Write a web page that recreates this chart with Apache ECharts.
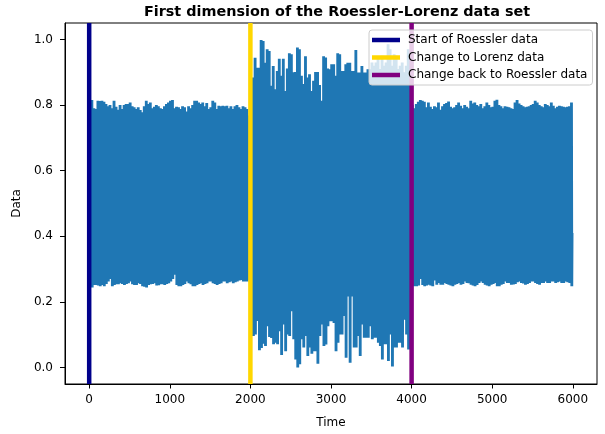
<!DOCTYPE html>
<html>
<head>
<meta charset="utf-8">
<script src="https://cdn.jsdelivr.net/npm/echarts@6/dist/echarts.min.js"></script>
<style>
  html, body { margin: 0; padding: 0; background: #fff; }
  #chart { width: 605px; height: 434px; }
</style>
</head>
<body>
<div id="chart"></div>
<script>
// chunk width in time units; each chunk holds the max and min
var chunk = 25;

// 0 - 2000: Roessler
var roessler1Hi = [0.79,0.815,0.79,0.788,0.813,0.812,0.813,0.81,0.803,0.796,0.80,0.79,0.813,0.795,0.786,0.80,0.788,0.80,0.803,0.803,
  0.808,0.796,0.793,0.788,0.793,0.785,0.778,0.796,0.813,0.803,0.808,0.79,0.795,0.80,0.796,0.79,0.788,0.796,0.803,0.808,
  0.813,0.815,0.79,0.795,0.793,0.788,0.796,0.793,0.78,0.796,0.79,0.80,0.813,0.813,0.808,0.803,0.808,0.796,0.806,0.788,
  0.793,0.813,0.808,0.788,0.798,0.796,0.798,0.796,0.798,0.79,0.796,0.788,0.796,0.80,0.793,0.788,0.796,0.793,0.788,0.768];
var roessler1Lo = [0.26,0.244,0.252,0.252,0.25,0.248,0.252,0.248,0.255,0.262,0.27,0.248,0.252,0.254,0.254,0.257,0.255,0.252,0.255,0.257,
  0.262,0.254,0.252,0.252,0.257,0.255,0.248,0.246,0.244,0.252,0.254,0.255,0.257,0.25,0.251,0.254,0.254,0.252,0.255,0.257,
  0.262,0.27,0.283,0.252,0.248,0.248,0.252,0.255,0.262,0.257,0.254,0.248,0.248,0.252,0.255,0.257,0.252,0.255,0.257,0.262,
  0.262,0.257,0.255,0.252,0.255,0.257,0.262,0.262,0.257,0.26,0.262,0.257,0.26,0.262,0.265,0.267,0.262,0.262,0.262,0.267];

// 2000 - 4000: Lorenz
var lorenzHi = [0.884,0.884,0.944,0.914,0.914,0.998,0.995,0.929,0.970,0.965,0.859,0.919,0.848,0.904,0.941,0.889,0.941,0.843,0.911,0.958,
  0.955,0.900,0.901,0.975,0.970,0.889,0.864,0.949,0.884,0.894,0.843,0.874,0.901,0.901,0.861,0.813,0.949,0.945,0.911,0.909,
  0.924,0.924,0.889,0.958,0.955,0.904,0.904,0.924,0.929,0.929,0.904,0.904,0.968,0.899,0.899,0.919,0.899,0.899,0.909,0.909,
  0.93,0.92,0.93,0.94,0.91,0.95,0.92,0.93,0.985,0.97,0.92,0.955,0.95,0.91,0.92,0.93,0.90,0.92,0.97,0.95];
var lorenzLo = [0.096,0.096,0.101,0.142,0.053,0.06,0.073,0.066,0.126,0.093,0.09,0.071,0.076,0.071,0.111,0.038,0.131,0.05,0.101,0.096,
  0.172,0.086,0.025,0.0,0.01,0.086,0.061,0.096,0.035,0.061,0.042,0.05,0.05,0.012,0.096,0.131,0.066,0.07,0.126,0.141,
  0.141,0.136,0.05,0.076,0.101,0.101,0.157,0.03,0.217,0.015,0.217,0.061,0.061,0.096,0.035,0.131,0.091,0.091,0.091,0.126,
  0.086,0.091,0.091,0.076,0.066,0.025,0.071,0.071,0.02,0.101,0.003,0.061,0.061,0.076,0.076,0.061,0.146,0.101,0.055,0.09];

// 4000 - 6000: Roessler again
var roessler2Hi = [0.80,0.79,0.803,0.81,0.815,0.813,0.81,0.793,0.808,0.795,0.788,0.796,0.793,0.808,0.786,0.796,0.803,0.806,0.811,0.795,
  0.79,0.793,0.80,0.808,0.798,0.79,0.80,0.795,0.79,0.813,0.805,0.808,0.80,0.796,0.803,0.79,0.796,0.808,0.80,0.793,
  0.795,0.813,0.816,0.80,0.796,0.79,0.796,0.795,0.793,0.79,0.788,0.808,0.815,0.805,0.80,0.796,0.793,0.795,0.796,0.80,
  0.803,0.813,0.808,0.80,0.796,0.793,0.803,0.80,0.796,0.808,0.798,0.79,0.795,0.798,0.796,0.795,0.793,0.795,0.796,0.808];
var roessler2Lo = [0.25,0.2475,0.2475,0.25,0.27,0.252,0.2475,0.25,0.2525,0.25,0.2475,0.265,0.2525,0.2576,0.2525,0.2525,0.2576,0.255,0.2525,0.25,
  0.2475,0.2525,0.255,0.2576,0.2525,0.255,0.2626,0.2576,0.257,0.2525,0.25,0.2475,0.252,0.2576,0.2626,0.258,0.2525,0.25,0.2475,0.2525,
  0.255,0.2576,0.2475,0.248,0.2525,0.255,0.2626,0.258,0.2576,0.2525,0.253,0.2545,0.26,0.2626,0.2576,0.256,0.2525,0.255,0.2576,0.2626,
  0.2626,0.2576,0.255,0.2525,0.2576,0.2576,0.2626,0.258,0.2576,0.2626,0.262,0.2576,0.26,0.2626,0.258,0.2576,0.2626,0.26,0.2576,0.2475];
var lastValue = 0.41;

var markers = [
  { name: 'Start of Roessler data', time: 0, color: '#00008b' },
  { name: 'Change to Lorenz data', time: 2000, color: '#ffd700' },
  { name: 'Change back to Roessler data', time: 4000, color: '#800080' }
];
var xTicks = [0, 1000, 2000, 3000, 4000, 5000, 6000];
var yTicks = [0, 0.2, 0.4, 0.6, 0.8, 1.0];

// every chunk swings between its max and min a few times, so the band fills in like the original
var swings = 3;
var segments = [[0, roessler1Hi, roessler1Lo], [2000, lorenzHi, lorenzLo], [4000, roessler2Hi, roessler2Lo]];
var points = [];
segments.forEach(function (s) {
  for (var k = 0; k < s[1].length; k++) {
    var t = s[0] + k * chunk;
    for (var j = 0; j < swings; j++) {
      points.push([t + (2 * j) * chunk / (2 * swings), s[1][k]]);
      points.push([t + (2 * j + 1) * chunk / (2 * swings), s[2][k]]);
    }
  }
});
points.push([5999, lastValue]);

var font = 'DejaVu Sans';
var chart = echarts.init(document.getElementById('chart'));

var series = [{
  name: 'data',
  type: 'line',
  data: points,
  showSymbol: false,
  sampling: false,
  lineStyle: { color: '#1f77b4', width: 1.5 },
  itemStyle: { color: '#1f77b4' },
  z: 2
}];
markers.forEach(function (m) {
  series.push({
    name: m.name,
    type: 'line',
    data: [[m.time, -0.05], [m.time, 1.05]],
    showSymbol: false,
    lineStyle: { color: m.color, width: 4.5 },
    itemStyle: { color: m.color },
    z: 3
  });
});

chart.setOption({
  animation: false,
  title: {
    text: 'First dimension of the Roessler-Lorenz data set',
    left: 332, top: 0, textAlign: 'center',
    textStyle: { fontFamily: font, fontSize: 14.4, fontWeight: 'bold', color: '#000' }
  },
  legend: {
    data: markers.map(function (m) { return m.name; }),
    orient: 'vertical',
    left: 369, top: 30,
    padding: [3, 5, 3, 3],
    itemGap: 3.5,
    itemWidth: 28,
    itemHeight: 4.5,
    icon: 'rect',
    backgroundColor: 'rgba(255,255,255,0.8)',
    borderColor: '#cccccc',
    borderWidth: 1,
    borderRadius: 3,
    textStyle: { fontFamily: font, fontSize: 12, color: '#000', lineHeight: 14, padding: [0, 0, 0, 3] }
  },
  grid: {
    left: 65, right: 8, top: 23, bottom: 49,
    show: true, borderColor: '#000', borderWidth: 1, backgroundColor: 'transparent'
  },
  xAxis: {
    type: 'value',
    min: -300, max: 6300,
    name: 'Time',
    nameLocation: 'middle',
    nameGap: 33,
    nameTextStyle: { fontFamily: font, fontSize: 12, color: '#000' },
    axisLine: { onZero: false, lineStyle: { color: '#000', width: 1 } },
    axisTick: { show: true, length: 4.5, customValues: xTicks, lineStyle: { color: '#000' } },
    axisLabel: {
      customValues: xTicks, margin: 10, fontFamily: font, fontSize: 12, color: '#000',
      formatter: function (v) { return String(v); }
    },
    splitLine: { show: false }
  },
  yAxis: {
    type: 'value',
    min: -0.05, max: 1.05,
    name: 'Data',
    nameLocation: 'middle',
    nameGap: 41,
    nameTextStyle: { fontFamily: font, fontSize: 12, color: '#000' },
    axisLine: { show: true, onZero: false, lineStyle: { color: '#000', width: 1 } },
    axisTick: { show: true, length: 5, customValues: yTicks, lineStyle: { color: '#000' } },
    axisLabel: {
      customValues: yTicks, margin: 12, fontFamily: font, fontSize: 12, color: '#000',
      formatter: function (v) { return v.toFixed(1); }
    },
    splitLine: { show: false }
  },
  series: series
});
</script>
</body>
</html>
